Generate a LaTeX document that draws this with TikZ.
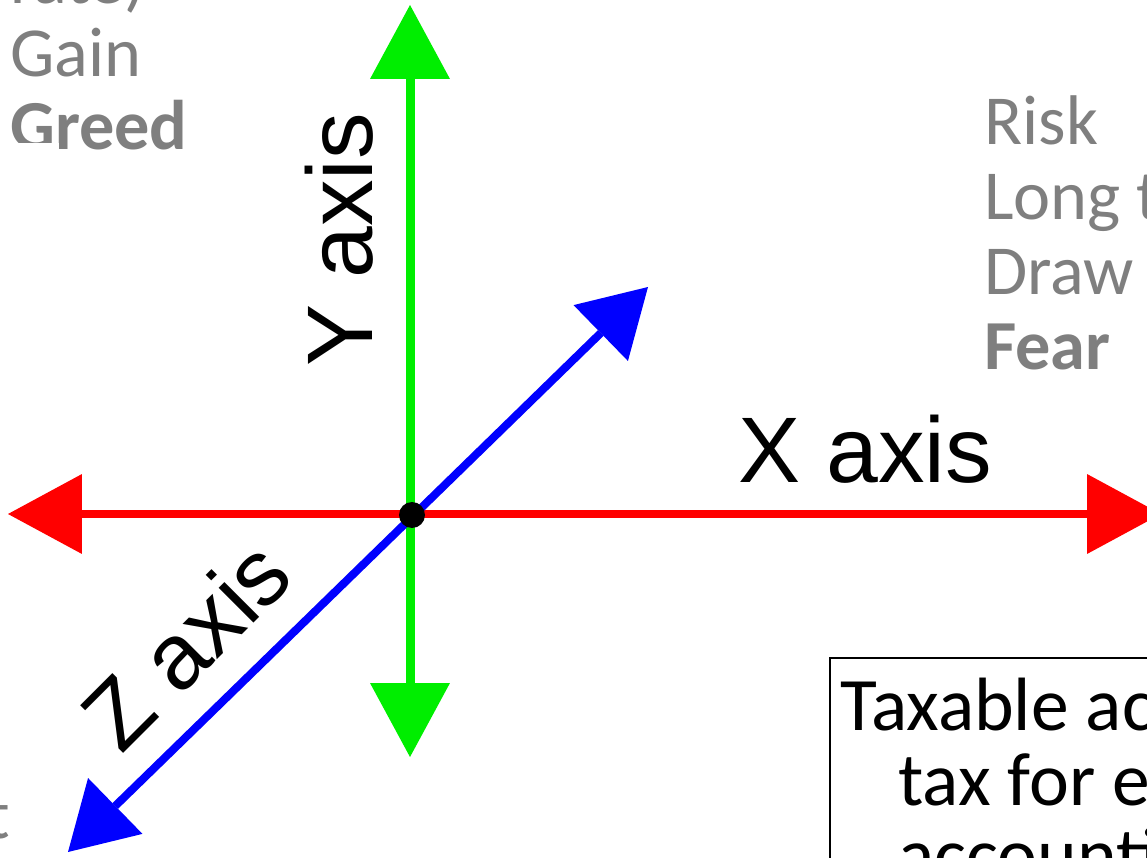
\documentclass[tikz,border=0pt]{standalone}
\usepackage{fontspec}
\setmainfont{Carlito}
\newfontfamily\axisfont{Liberation Sans}
\usetikzlibrary{arrows.meta}
\definecolor{slidegray}{HTML}{7F7F7F}
\definecolor{axred}{HTML}{FF0000}
\definecolor{axgreen}{HTML}{00EE00}
\definecolor{axblue}{HTML}{0000FF}
\tikzset{
  axisline/.style={line width=0.18cm,
    arrows={Triangle[length=1.48cm,width=1.6cm,line width=0pt]-Triangle[length=1.48cm,width=1.6cm,line width=0pt]}},
  zaxisline/.style={line width=0.16cm,
    arrows={Triangle[length=1.32cm,width=1.56cm,line width=0pt]-Triangle[length=1.32cm,width=1.56cm,line width=0pt]}},
  graytext/.style={anchor=base west, inner sep=0pt, text=slidegray, font=\fontsize{40}{48}\selectfont},
  graybold/.style={graytext, font=\fontsize{40}{48}\selectfont\bfseries},
  boxtext/.style={anchor=base west, inner sep=0pt, text=black, font=\fontsize{43}{50}\selectfont},
  axislabel/.style={anchor=base west, inner sep=0pt, text=black, font=\axisfont\fontsize{53}{60}\selectfont},
  origindot/.style={circle, fill=black, minimum size=0.52cm, inner sep=0pt},
}
\begin{document}
\begin{tikzpicture}[x=0.02cm,y=-0.02cm]
\useasboundingbox (0,0) rectangle (1147,858);
\clip (0,0) rectangle (1147,858);
\fill[white] (0,0) rectangle (1147,858);

% left gray text
\node[graytext] (rate) at (10,4) {rate)};
\node[graytext] (gain) at (10,77) {Gain};
\node[graybold] (greed) at (10,150) {Greed};
\fill[white] (10,143) rectangle (59,165);
\node[graytext] (tleft) at (-14,838) {t};

% right gray text
\node[graytext] (risk) at (984,145) {Risk};
\node[graytext] (long) at (984,220) {Long t};
\node[graytext] (draw) at (984,295) {Draw};
\node[graybold] (fear) at (984,370) {Fear};

% axes
\coordinate (xl) at (8,514);
\coordinate (xr) at (1161,514);
\coordinate (yt) at (410,5);
\coordinate (yb) at (410,757);
\coordinate (zt) at (648,287);
\coordinate (zb) at (68,852);
\draw[axisline, axgreen] (yt) -- (yb);
\draw[axisline, axred] (xl) -- (xr);
\draw[zaxisline, axblue] (zt) -- (zb);
\node[origindot] (O) at (412,515) {};

% axis labels
\node[axislabel] (xlab) at (738,482) {X axis};
\node[axislabel, rotate=90] (ylab) at (372,367) {Y axis};
\node[axislabel, rotate=45] (zlab) at (121,756) {Z axis};

% box
\coordinate (boxnw) at (830,658);
\coordinate (boxse) at (1170,880);
\draw[line width=0.04cm, black, fill=white] (boxnw) rectangle (boxse);
\node[boxtext] (tax1) at (840,730) {Taxable acc};
\node[boxtext] (tax2) at (898,805) {tax for e};
\node[boxtext] (tax3) at (898,880) {accounti};
\end{tikzpicture}
\end{document}
